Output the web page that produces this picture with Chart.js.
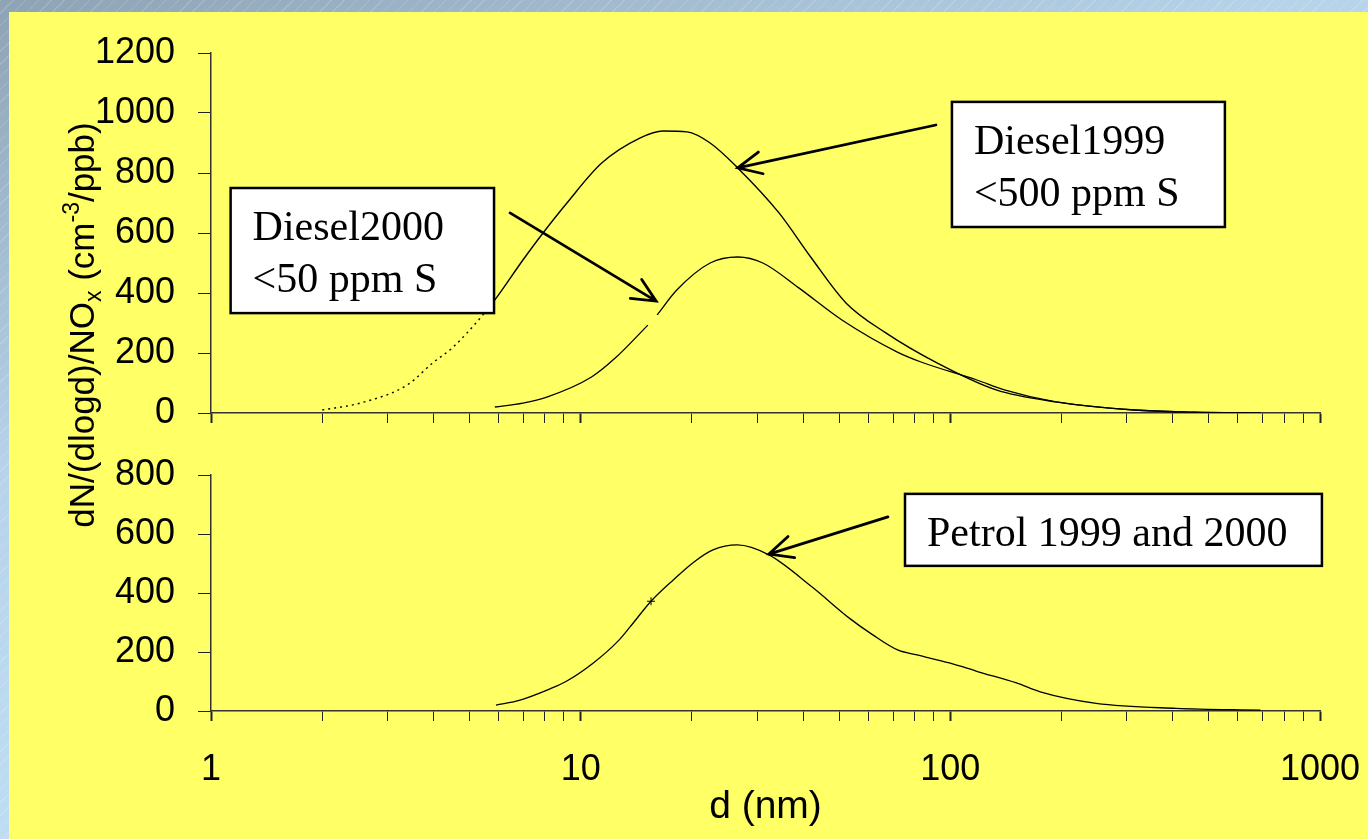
<!DOCTYPE html>
<html>
<head>
<meta charset="utf-8">
<script src="https://cdn.jsdelivr.net/npm/chart.js@4.4.1/dist/chart.umd.min.js"></script>
<style>
html, body { margin: 0; padding: 0; }
body {
    width: 1368px; height: 839px; overflow: hidden; position: relative;
    background:
        repeating-linear-gradient(135deg, rgba(255,255,255,0.16) 0 1px, rgba(255,255,255,0) 1px 9px),
        linear-gradient(160deg, #8ea3b4 0%, #b6d3ea 35%, #cbeafd 100%);
}
#panel { position: absolute; left: 9px; top: 12px; width: 1359px; height: 827px; background: #ffff66; }
canvas { position: absolute; left: 0; top: 0; }
</style>
</head>
<body>
<div id="panel"></div>
<canvas id="top-chart" width="1368" height="839"></canvas>
<canvas id="bottom-chart" width="1368" height="839"></canvas>
<script>
// particle diameter (nm) and dN/(dlogd)/NOx
const diesel1999D = [2, 2.53, 3.39, 3.98, 4.52, 5.44, 5.86, 6.98, 7.91, 9.18, 11.4, 14.5, 16.7, 19.4, 22.4, 26.6, 34.4, 41.9, 52.2, 66.9, 92, 133, 193, 315, 456, 690]
const diesel1999N = [10, 33, 93, 167, 220, 327, 377, 510, 600, 700, 833, 917, 940, 937, 900, 817, 667, 520, 367, 267, 167, 77, 37, 10, 3, 0]

const diesel2000D = [5.86, 6.98, 8.1, 10.7, 12.4, 15.2, 15.6, 16.1, 18.2, 22.4, 26.6, 31.1, 38.9, 50.9, 71.9, 83.3, 118, 140, 193, 315, 456, 690]
const diesel2000N = [20, 33, 53, 120, 183, 293, null, 327, 410, 500, 520, 500, 417, 310, 203, 170, 110, 77, 37, 10, 3, 0]

const petrolD = [5.9, 6.86, 8.26, 9.1, 10.8, 12.6, 13.6, 15.5, 17.8, 20.3, 22.8, 26.5, 32.3, 42.2, 53.4, 61.7, 72, 81.2, 99.4, 119, 151, 175, 248, 408, 690]
const petrolN = [20, 37, 75, 99, 162, 236, 285, 372, 444, 506, 546, 563, 529, 421, 314, 258, 207, 190, 163, 133, 95, 65, 26, 9, 3]
const petrolMarked = 15.5

const xTicks = [1, 2, 3, 4, 5, 6, 7, 8, 9, 10, 20, 30, 40, 50, 60, 70, 80, 90, 100, 200, 300, 400, 500, 600, 700, 800, 900, 1000]
const xMajor = [1, 10, 100, 1000]
const xTitle = 'd (nm)'
const yTitle = [['dN/(dlogd)/NO', 'n'], ['x', 'sub'], [' (cm', 'n'], ['-3', 'sup'], ['/ppb)', 'n']]

const sans = "'Liberation Sans', Arial, Helvetica, sans-serif"
const serif = "'Liberation Serif', 'Times New Roman', serif"

const toPoints = (xs, ys) => xs.map((d, i) => ({ x: d, y: ys[i] }))

const line = (label, xs, ys, extra) => Object.assign({
    label: label,
    data: toPoints(xs, ys),
    borderColor: '#000',
    borderWidth: 1.3,
    pointRadius: 0,
    pointHitRadius: 0,
    cubicInterpolationMode: 'monotone',
    spanGaps: false
}, extra || {})

const xAxis = (showLabels, height) => ({
    type: 'logarithmic',
    min: 1,
    max: 1000,
    afterBuildTicks: s => { s.ticks = xTicks.map(v => ({ value: v, major: xMajor.includes(v) })) },
    afterFit: s => { s.height = height; s.paddingLeft = 0; s.paddingRight = 0 },
    grid: {
        drawOnChartArea: false,
        drawTicks: true,
        tickLength: 10,
        tickColor: '#222',
        tickWidth: ctx => (ctx.tick && xMajor.includes(ctx.tick.value)) ? 2 : 1
    },
    border: { color: '#333', width: 1.5 },
    ticks: {
        autoSkip: false,
        maxRotation: 0,
        minRotation: 0,
        padding: 27,
        color: '#000',
        font: { family: sans, size: 36 },
        callback: v => (showLabels && xMajor.includes(v)) ? String(v) : ''
    },
    title: {
        display: showLabels,
        text: xTitle,
        color: '#000',
        font: { family: sans, size: 39 },
        padding: { top: 0, bottom: 8 }
    }
})

const yAxis = (max) => ({
    min: 0,
    max: max,
    afterFit: s => { s.width = 211 },
    grid: { drawOnChartArea: false, tickLength: 13, tickColor: '#222' },
    border: { color: '#333', width: 1.5 },
    ticks: {
        stepSize: 200,
        padding: 23,
        color: '#000',
        font: { family: sans, size: 36 },
        callback: v => String(v)
    }
})

// text boxes with arrows, placed in data units of each panel
const notes = (boxes, arrows) => ({
    id: 'notes',
    afterDatasetsDraw(chart) {
        const { ctx } = chart
        const sx = chart.scales.x, sy = chart.scales.y
        ctx.save()
        for (const b of boxes) {
            const l = sx.getPixelForValue(b.x1), r = sx.getPixelForValue(b.x2)
            const t = sy.getPixelForValue(b.y1), bt = sy.getPixelForValue(b.y2)
            ctx.fillStyle = '#fff'
            ctx.fillRect(l, t, r - l, bt - t)
            ctx.lineWidth = 2.5
            ctx.strokeStyle = '#000'
            ctx.strokeRect(l, t, r - l, bt - t)
            ctx.fillStyle = '#000'
            ctx.font = '42px ' + serif
            ctx.textBaseline = 'alphabetic'
            ctx.textAlign = 'left'
            b.lines.forEach((s, i) => ctx.fillText(s, l + 22, t + 52 + i * 52))
        }
        for (const a of arrows) {
            const x0 = sx.getPixelForValue(a.from[0]), y0 = sy.getPixelForValue(a.from[1])
            const x1 = sx.getPixelForValue(a.to[0]), y1 = sy.getPixelForValue(a.to[1])
            const ang = Math.atan2(y0 - y1, x0 - x1)
            ctx.strokeStyle = '#000'
            ctx.lineWidth = 2.8
            ctx.lineCap = 'round'
            ctx.beginPath()
            ctx.moveTo(x0, y0)
            ctx.lineTo(x1, y1)
            ctx.moveTo(x1 + 26 * Math.cos(ang - 0.44), y1 + 26 * Math.sin(ang - 0.44))
            ctx.lineTo(x1, y1)
            ctx.lineTo(x1 + 26 * Math.cos(ang + 0.44), y1 + 26 * Math.sin(ang + 0.44))
            ctx.stroke()
        }
        ctx.restore()
    }
})

const yTitlePlugin = {
    id: 'ytitle',
    afterDraw(chart) {
        const ctx = chart.ctx
        const sizes = { n: 35, sub: 23, sup: 23 }
        const shift = { n: 0, sub: 7, sup: -15 }
        ctx.save()
        ctx.translate(82, 325)
        ctx.rotate(-Math.PI / 2)
        ctx.fillStyle = '#000'
        ctx.textBaseline = 'alphabetic'
        ctx.textAlign = 'left'
        let total = 0
        for (const [s, k] of yTitle) {
            ctx.font = sizes[k] + 'px ' + sans
            total += ctx.measureText(s).width
        }
        let pos = -total / 2
        for (const [s, k] of yTitle) {
            ctx.font = sizes[k] + 'px ' + sans
            ctx.fillText(s, pos, 12 + shift[k])
            pos += ctx.measureText(s).width
        }
        ctx.restore()
    }
}

const baseOptions = (padTop, xA, yA) => ({
    responsive: false,
    animation: false,
    layout: { padding: { top: padTop, right: 48, bottom: 0, left: 0 } },
    plugins: { legend: { display: false }, tooltip: { enabled: false } },
    scales: { x: xA, y: yA }
})

const topCtx = document.getElementById('top-chart').getContext('2d')
const topChart = new Chart(topCtx, {
    type: 'line',
    data: {
        datasets: [
            line('Diesel1999 <500 ppm S', diesel1999D, diesel1999N, {
                segment: { borderDash: c => c.p1.parsed.x <= 5.5 ? [2, 4] : undefined },
                borderWidth: 1.4
            }),
            line('Diesel2000 <50 ppm S', diesel2000D, diesel2000N)
        ]
    },
    options: baseOptions(53, xAxis(false, 839 - 413), yAxis(1200)),
    plugins: [
        notes(
            [
                { lines: ['Diesel1999', '<500 ppm S'], x1: 101, x2: 553, y1: 1037, y2: 620 },
                { lines: ['Diesel2000', '<50 ppm S'], x1: 1.13, x2: 5.83, y1: 750, y2: 333 }
            ],
            [
                { from: [91.4, 960], to: [26.6, 817] },
                { from: [6.44, 667], to: [16.0, 373] }
            ]
        ),
        yTitlePlugin
    ]
})

const bottomCtx = document.getElementById('bottom-chart').getContext('2d')
const bottomChart = new Chart(bottomCtx, {
    type: 'line',
    data: {
        datasets: [line('Petrol 1999 and 2000', petrolD, petrolN, {
            pointStyle: 'cross',
            pointRadius: petrolD.map(d => d === petrolMarked ? 4 : 0),
            pointBorderWidth: 1,
            pointBorderColor: '#000'
        })]
    },
    options: baseOptions(475, xAxis(true, 839 - 711), yAxis(800)),
    plugins: [
        notes(
            [{ lines: ['Petrol 1999 and 2000'], x1: 75.4, x2: 1012, y1: 736, y2: 492 }],
            [{ from: [67.8, 658], to: [32.3, 532] }]
        )
    ]
})
</script>
</body>
</html>
